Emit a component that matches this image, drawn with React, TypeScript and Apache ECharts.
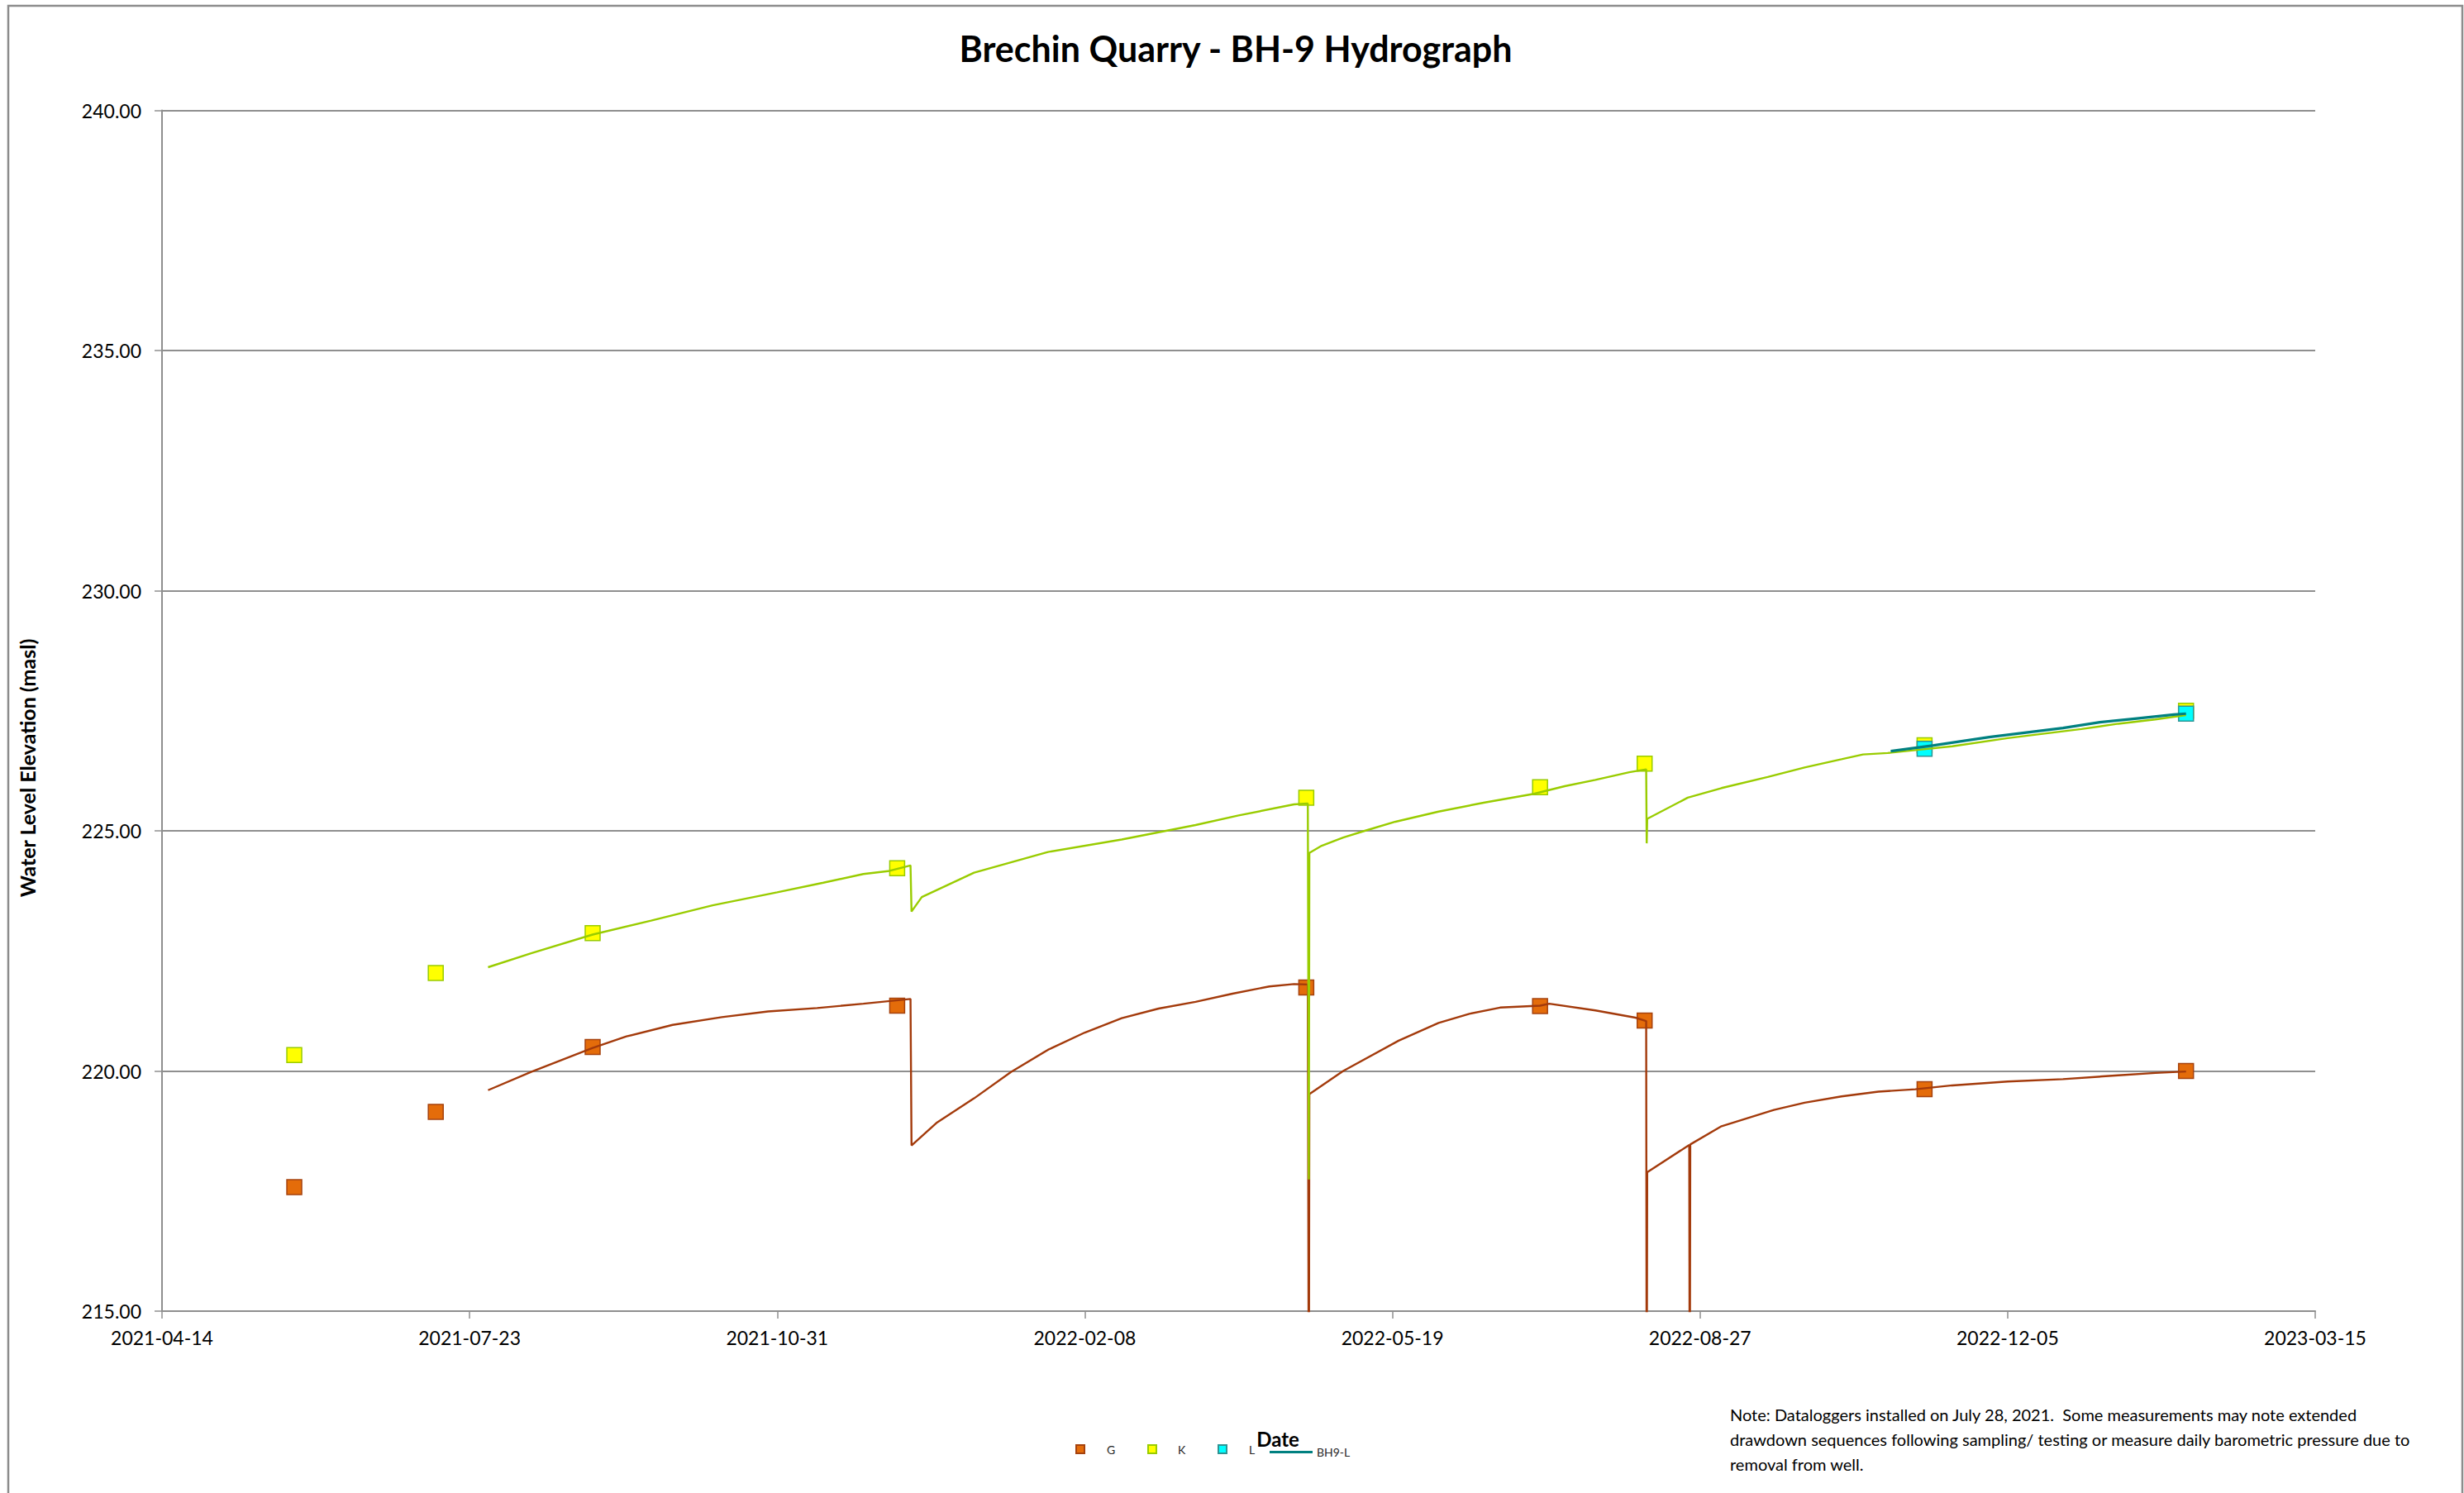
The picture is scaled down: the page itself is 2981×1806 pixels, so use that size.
import React, { useEffect, useRef } from 'react';
import * as echarts from 'echarts';

// ---------- texts ----------
const TITLE = 'Brechin Quarry - BH-9 Hydrograph';
const Y_TITLE = 'Water Level Elevation (masl)';
const X_TITLE = 'Date';
const NOTE_LINES = [
  'Note: Dataloggers installed on July 28, 2021.  Some measurements may note extended',
  'drawdown sequences following sampling/ testing or measure daily barometric pressure due to',
  'removal from well.',
];

// ---------- axes ----------
const X_MIN_DATE = '2021-04-14';
const X_MAX_DATE = '2023-03-15';
const X_STEP_DAYS = 100;
const Y_MIN = 215;
const Y_MAX = 240;
const Y_STEP = 5;

// ---------- manual measurements ----------
const manualDates = ['2021-05-27', '2021-07-12', '2021-09-01', '2021-12-09', '2022-04-21', '2022-07-06', '2022-08-09', '2022-11-08', '2023-02-01'];
const gManual = [217.58, 219.15, 220.5, 221.36, 221.74, 221.35, 221.05, 219.62, 220.0];
const kManual = [220.33, 222.04, 222.87, 224.22, 225.69, 225.91, 226.4, 226.78, 227.5];
const lManualDates = ['2022-11-08', '2023-02-01'];
const lManual = [226.71, 227.44];

// ---------- datalogger G ----------
const gLoggerDates = [
  '2021-07-29', '2021-08-12', '2021-09-01', '2021-09-12', '2021-09-27', '2021-10-13', '2021-10-28', '2021-11-13', '2021-11-28',
  '2021-12-13 08:00', '2021-12-13 16:00', '2021-12-22', '2022-01-03', '2022-01-15', '2022-01-27', '2022-02-08', '2022-02-20',
  '2022-03-04', '2022-03-16', '2022-03-28', '2022-04-09', '2022-04-17', '2022-04-21 12:00', '2022-04-21 20:00', '2022-04-22 00:00',
  '2022-05-03', '2022-05-21', '2022-06-03', '2022-06-13', '2022-06-23', '2022-07-06', '2022-07-09', '2022-07-24', '2022-08-06',
  '2022-08-09 12:00', '2022-08-09 16:00', '2022-08-09 20:00', '2022-08-23 12:00', '2022-08-23 16:00', '2022-08-23 20:00',
  '2022-09-03', '2022-09-20', '2022-09-30', '2022-10-12', '2022-10-24', '2022-11-05', '2022-11-17', '2022-12-05', '2022-12-23',
  '2023-01-10', '2023-01-22', '2023-02-01',
];
const gLoggerLevels = [
  219.6, 219.98, 220.48, 220.72, 220.96, 221.12, 221.24, 221.31, 221.4,
  221.5, 218.45, 218.93, 219.43, 219.98, 220.44, 220.8, 221.1,
  221.3, 221.44, 221.61, 221.76, 221.81, 221.8, 212.0, 219.52,
  220.0, 220.63, 221.0, 221.19, 221.32, 221.36, 221.4, 221.26, 221.11,
  221.04, 212.0, 217.89, 218.46, 212.0, 218.47,
  218.85, 219.19, 219.34, 219.47, 219.57, 219.62, 219.7, 219.78, 219.83,
  219.91, 219.96, 219.99,
];

// ---------- datalogger K ----------
const kLoggerDates = [
  '2021-07-29', '2021-08-12', '2021-09-01', '2021-09-20', '2021-10-10', '2021-10-31', '2021-11-15', '2021-11-28', '2021-12-06',
  '2021-12-13 08:00', '2021-12-13 16:00', '2021-12-17', '2022-01-03', '2022-01-27', '2022-02-20', '2022-03-16', '2022-03-30',
  '2022-04-17', '2022-04-21 12:00', '2022-04-21 20:00', '2022-04-22 00:00', '2022-04-26', '2022-05-03', '2022-05-10', '2022-05-20',
  '2022-06-03', '2022-06-18', '2022-07-04', '2022-07-14', '2022-07-24', '2022-08-04', '2022-08-09 12:00', '2022-08-09 16:00',
  '2022-08-09 20:00', '2022-08-23', '2022-09-03', '2022-09-18', '2022-09-30', '2022-10-12', '2022-10-19', '2022-10-27',
  '2022-11-05', '2022-11-17', '2022-12-05', '2022-12-29', '2023-01-10', '2023-01-22', '2023-02-01',
];
const kLoggerLevels = [
  222.16, 222.45, 222.84, 223.13, 223.45, 223.72, 223.92, 224.1, 224.16,
  224.28, 223.32, 223.62, 224.13, 224.56, 224.82, 225.12, 225.32,
  225.55, 225.57, 217.74, 224.54, 224.69, 224.86, 225.0, 225.19,
  225.4, 225.59, 225.77, 225.93, 226.06, 226.22, 226.28, 224.74,
  225.25, 225.69, 225.89, 226.12, 226.32, 226.49, 226.59, 226.62,
  226.68, 226.76, 226.93, 227.12, 227.23, 227.32, 227.41,
];

// ---------- datalogger BH9-L ----------
const lLoggerDates = ['2022-10-28', '2022-11-11', '2022-11-29', '2022-12-23', '2023-01-04', '2023-01-16', '2023-01-28', '2023-02-01'];
const lLoggerLevels = [226.66, 226.78, 226.95, 227.14, 227.26, 227.34, 227.42, 227.44];

// ---------- helpers ----------
function toSerial(s: string): number {
  const [d, t] = s.split(' ');
  const [y, m, dd] = d.split('-').map(Number);
  let h = 0;
  let mi = 0;
  if (t) {
    const p = t.split(':').map(Number);
    h = p[0];
    mi = p[1];
  }
  return Date.UTC(y, m - 1, dd, h, mi) / 86400000 + 25569;
}
function serialToLabel(v: number): string {
  return new Date(Math.round((v - 25569) * 86400000)).toISOString().slice(0, 10);
}
function pairs(dates: string[], vals: number[]) {
  return dates.map((d, i) => [toSerial(d), vals[i]]);
}

const FONT = 'Lato';
const GRID_COLOR = '#8f8f8f';

export default function App() {
  const ref = useRef<HTMLDivElement>(null);
  useEffect(() => {
    if (!ref.current) return;
    const chart = echarts.init(ref.current, null, { renderer: 'svg' });
    const legendText = { fontFamily: FONT, fontSize: 14, color: '#262626' };
    const legendCommon = {
      orient: 'horizontal',
      top: 1741,
      itemHeight: 10,
      itemWidth: 10,
      selectedMode: false,
    };
    const option: any = {
      animation: false,
      backgroundColor: '#ffffff',
      textStyle: { fontFamily: FONT },
      grid: { left: 196, right: 180, top: 133.5, bottom: 220, outerBoundsMode: 'none' },
      xAxis: {
        type: 'value',
        min: toSerial(X_MIN_DATE),
        max: toSerial(X_MAX_DATE),
        interval: X_STEP_DAYS,
        axisLine: { show: true, onZero: false, lineStyle: { color: GRID_COLOR, width: 2 } },
        axisTick: { show: true, length: 9, lineStyle: { color: GRID_COLOR, width: 1.5 } },
        axisLabel: { formatter: (v: number) => serialToLabel(v), fontSize: 23, color: '#000', margin: 20, fontFamily: FONT },
        splitLine: { show: false },
      },
      yAxis: {
        type: 'value',
        min: Y_MIN,
        max: Y_MAX,
        interval: Y_STEP,
        axisLine: { show: true, onZero: false, lineStyle: { color: GRID_COLOR, width: 2 } },
        axisTick: { show: true, length: 9, lineStyle: { color: GRID_COLOR, width: 1.5 } },
        axisLabel: { formatter: (v: number) => v.toFixed(2), fontSize: 23, color: '#000', margin: 25, fontFamily: FONT },
        splitLine: { show: true, lineStyle: { color: GRID_COLOR, width: 2 } },
      },
      legend: [
        { ...legendCommon, left: 1296, data: [{ name: 'G', icon: 'rect' }], textStyle: { ...legendText, padding: [0, 0, 0, 22] } },
        { ...legendCommon, left: 1383, data: [{ name: 'K', icon: 'rect' }], textStyle: { ...legendText, padding: [0, 0, 0, 21] } },
        { ...legendCommon, left: 1468, data: [{ name: 'L', icon: 'rect' }], textStyle: { ...legendText, padding: [0, 0, 0, 22] } },
        {
          ...legendCommon,
          left: 1531,
          top: 1744.5,
          itemWidth: 52,
          itemHeight: 3,
          data: [{ name: 'BH9-L', icon: 'rect', itemStyle: { color: '#008080', borderWidth: 0 } }],
          textStyle: legendText,
        },
      ],
      graphic: [
        {
          type: 'rect',
          silent: true,
          z: -10,
          shape: { x: 10, y: 7, width: 2969, height: 1860 },
          style: { fill: 'none', stroke: '#8c8c8c', lineWidth: 2.5 },
        },
        {
          type: 'text',
          x: 1495,
          y: 58,
          style: { text: TITLE, fontFamily: FONT, fontSize: 43, fontWeight: 'bold', fill: '#000', textAlign: 'center', textVerticalAlign: 'middle' },
        },
        {
          type: 'text',
          x: 33,
          y: 929,
          rotation: Math.PI / 2,
          style: { text: Y_TITLE, fontFamily: FONT, fontSize: 25, fontWeight: 'bold', fill: '#000', textAlign: 'center', textVerticalAlign: 'middle' },
        },
        {
          type: 'text',
          x: 1546,
          y: 1740,
          z: -1,
          style: { text: X_TITLE, fontFamily: FONT, fontSize: 24, fontWeight: 'bold', fill: '#000', textAlign: 'center', textVerticalAlign: 'middle' },
        },
        {
          type: 'text',
          x: 2093,
          y: 1696,
          style: { text: NOTE_LINES.join('\n'), fontFamily: FONT, fontSize: 20, lineHeight: 30, fill: '#000', textAlign: 'left', textVerticalAlign: 'top' },
        },
      ],
      series: [
        {
          name: 'BH9-G',
          type: 'line',
          data: pairs(gLoggerDates, gLoggerLevels),
          showSymbol: false,
          symbol: 'none',
          clip: true,
          lineStyle: { color: '#a33a0b', width: 2.4 },
          itemStyle: { color: '#a33a0b' },
        },
        {
          name: 'BH9-K',
          type: 'line',
          data: pairs(kLoggerDates, kLoggerLevels),
          showSymbol: false,
          symbol: 'none',
          clip: true,
          lineStyle: { color: '#99cc00', width: 2.4 },
          itemStyle: { color: '#99cc00' },
        },
        {
          name: 'BH9-L',
          type: 'line',
          data: pairs(lLoggerDates, lLoggerLevels),
          showSymbol: false,
          symbol: 'none',
          clip: true,
          lineStyle: { color: '#008080', width: 3.2 },
          itemStyle: { color: '#008080' },
        },
        {
          name: 'G',
          type: 'scatter',
          data: pairs(manualDates, gManual),
          symbol: 'rect',
          symbolSize: 18,
          itemStyle: { color: '#e46c0a', borderColor: '#a5420e', borderWidth: 1.5, opacity: 1 },
        },
        {
          name: 'K',
          type: 'scatter',
          data: pairs(manualDates, kManual),
          symbol: 'rect',
          symbolSize: 18,
          itemStyle: { color: '#ffff00', borderColor: '#99cc00', borderWidth: 1.5, opacity: 1 },
        },
        {
          name: 'L',
          type: 'scatter',
          data: pairs(lManualDates, lManual),
          symbol: 'rect',
          symbolSize: 18,
          itemStyle: { color: '#00ffff', borderColor: '#2e9494', borderWidth: 1.5, opacity: 1 },
        },
      ],
    };
    chart.setOption(option);
    return () => chart.dispose();
  }, []);
  return <div ref={ref} style={{ position: 'fixed', left: 0, top: 0, width: 2981, height: 1806, background: '#fff' }} />;
}
